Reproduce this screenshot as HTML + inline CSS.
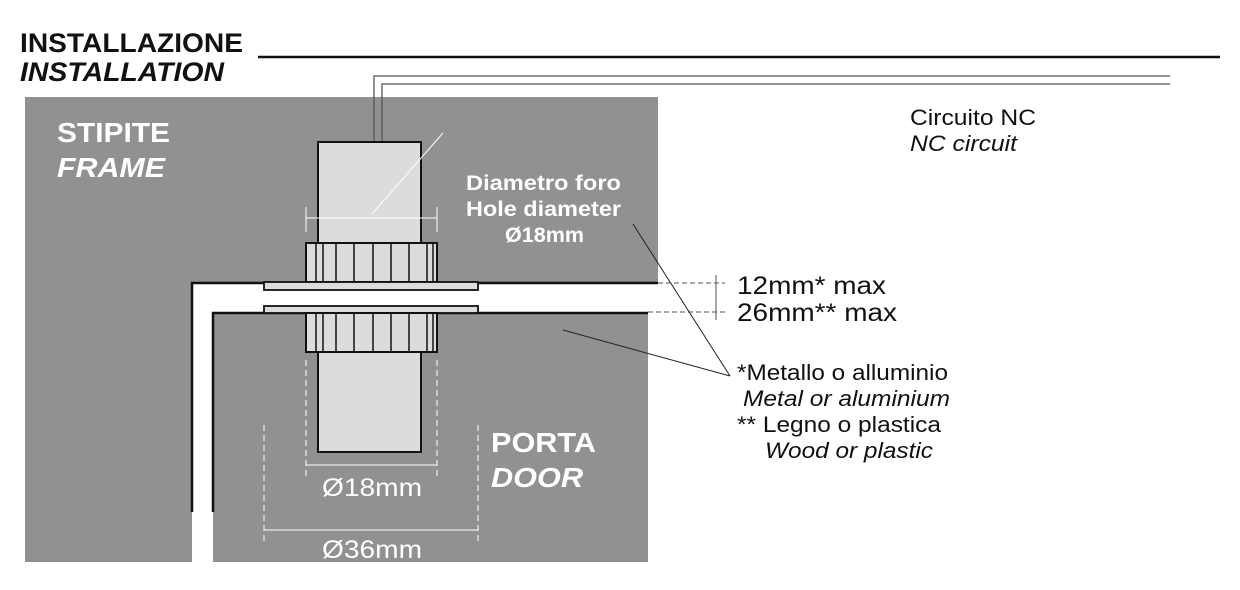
<!DOCTYPE html>
<html><head><meta charset="utf-8"><style>
html,body{margin:0;padding:0;background:#fff;}
svg{display:block;font-family:"Liberation Sans",Arial,sans-serif;}
</style></head><body>
<svg width="1240" height="590" viewBox="0 0 1240 590" xmlns="http://www.w3.org/2000/svg">
<text x="20" y="52" font-size="27" font-weight="bold" fill="#111" textLength="223" lengthAdjust="spacingAndGlyphs">INSTALLAZIONE</text>
<text x="20" y="81" font-size="27" font-weight="bold" font-style="italic" fill="#111" textLength="204" lengthAdjust="spacingAndGlyphs">INSTALLATION</text>
<line x1="258" y1="57" x2="1220" y2="57" stroke="#111" stroke-width="2.5"/>
<rect x="25" y="97" width="633" height="186" fill="#929190"/>
<rect x="25" y="283" width="167" height="279" fill="#929190"/>
<rect x="213" y="313" width="435" height="249" fill="#929190"/>
<polyline points="658,283 192,283 192,512" fill="none" stroke="#111" stroke-width="2.5"/>
<polyline points="648,313 213,313 213,512" fill="none" stroke="#111" stroke-width="2.5"/>
<polyline points="374,142 374,76 1170,76" fill="none" stroke="#555" stroke-width="1.3"/>
<polyline points="382,142 382,84 1170,84" fill="none" stroke="#555" stroke-width="1.3"/>
<rect x="318" y="142" width="103" height="101" fill="#dcdcdc" stroke="#111" stroke-width="2"/>
<rect x="306" y="243" width="131" height="39" fill="#dcdcdc" stroke="#111" stroke-width="2"/>
<g stroke="#111" stroke-width="1.5">
<line x1="316" y1="243" x2="316" y2="282"/><line x1="323" y1="243" x2="323" y2="282"/><line x1="336" y1="243" x2="336" y2="282"/><line x1="354" y1="243" x2="354" y2="282"/><line x1="373" y1="243" x2="373" y2="282"/><line x1="391" y1="243" x2="391" y2="282"/><line x1="409" y1="243" x2="409" y2="282"/><line x1="427" y1="243" x2="427" y2="282"/><line x1="433" y1="243" x2="433" y2="282"/>
</g>
<rect x="264" y="282" width="214" height="8" fill="#dcdcdc" stroke="#111" stroke-width="1.8"/>
<rect x="264" y="306" width="214" height="7" fill="#dcdcdc" stroke="#111" stroke-width="1.8"/>
<rect x="306" y="313" width="131" height="39" fill="#dcdcdc" stroke="#111" stroke-width="2"/>
<g stroke="#111" stroke-width="1.5">
<line x1="316" y1="313" x2="316" y2="352"/><line x1="323" y1="313" x2="323" y2="352"/><line x1="336" y1="313" x2="336" y2="352"/><line x1="354" y1="313" x2="354" y2="352"/><line x1="373" y1="313" x2="373" y2="352"/><line x1="391" y1="313" x2="391" y2="352"/><line x1="409" y1="313" x2="409" y2="352"/><line x1="427" y1="313" x2="427" y2="352"/><line x1="433" y1="313" x2="433" y2="352"/>
</g>
<rect x="318" y="352" width="103" height="100" fill="#dcdcdc" stroke="#111" stroke-width="2"/>
<g stroke="#fff" stroke-width="1" fill="none">
<line x1="306" y1="218" x2="437" y2="218"/>
<line x1="306" y1="207" x2="306" y2="232"/><line x1="437" y1="207" x2="437" y2="232"/>
<line x1="372" y1="214" x2="443" y2="133"/>
<line x1="306" y1="360" x2="306" y2="478" stroke-dasharray="6,4"/>
<line x1="437" y1="360" x2="437" y2="478" stroke-dasharray="6,4"/>
<line x1="306" y1="465" x2="437" y2="465"/>
<line x1="264" y1="425" x2="264" y2="543" stroke-dasharray="6,4"/>
<line x1="478" y1="425" x2="478" y2="543" stroke-dasharray="6,4"/>
<line x1="264" y1="530" x2="478" y2="530"/>
</g>
<text x="322" y="496" font-size="25" fill="#fff" textLength="100" lengthAdjust="spacingAndGlyphs">Ø18mm</text>
<text x="322" y="558" font-size="25" fill="#fff" textLength="100" lengthAdjust="spacingAndGlyphs">Ø36mm</text>
<text x="57" y="142" font-size="28" font-weight="bold" fill="#fff" textLength="113" lengthAdjust="spacingAndGlyphs">STIPITE</text>
<text x="57" y="177" font-size="28" font-weight="bold" font-style="italic" fill="#fff" textLength="108" lengthAdjust="spacingAndGlyphs">FRAME</text>
<text x="491" y="452" font-size="28" font-weight="bold" fill="#fff" textLength="105" lengthAdjust="spacingAndGlyphs">PORTA</text>
<text x="491" y="487" font-size="28" font-weight="bold" font-style="italic" fill="#fff" textLength="92" lengthAdjust="spacingAndGlyphs">DOOR</text>
<g font-size="21" font-weight="bold" fill="#fff">
<text x="466" y="190" textLength="155" lengthAdjust="spacingAndGlyphs">Diametro foro</text>
<text x="466" y="216" textLength="155" lengthAdjust="spacingAndGlyphs">Hole diameter</text>
<text x="505" y="242" textLength="79" lengthAdjust="spacingAndGlyphs">Ø18mm</text>
</g>
<g stroke="#555" stroke-width="1">
<line x1="658" y1="283" x2="725" y2="283" stroke-dasharray="5,3"/>
<line x1="648" y1="312" x2="725" y2="312" stroke-dasharray="5,3"/>
<line x1="716" y1="275" x2="716" y2="320"/>
<line x1="633" y1="224" x2="730" y2="376" stroke="#222"/>
<line x1="563" y1="330" x2="730" y2="376" stroke="#222"/>
</g>
<text x="737" y="294" font-size="25" fill="#111" textLength="149" lengthAdjust="spacingAndGlyphs">12mm* max</text>
<text x="737" y="321" font-size="25" fill="#111" textLength="160" lengthAdjust="spacingAndGlyphs">26mm** max</text>
<g font-size="22" fill="#111">
<text x="737" y="380" textLength="211" lengthAdjust="spacingAndGlyphs">*Metallo o alluminio</text>
<text x="743" y="406" font-style="italic" textLength="207" lengthAdjust="spacingAndGlyphs">Metal or aluminium</text>
<text x="737" y="432" textLength="204" lengthAdjust="spacingAndGlyphs">** Legno o plastica</text>
<text x="765" y="458" font-style="italic" textLength="168" lengthAdjust="spacingAndGlyphs">Wood or plastic</text>
<text x="910" y="125" textLength="126" lengthAdjust="spacingAndGlyphs">Circuito NC</text>
<text x="910" y="151" font-style="italic" textLength="107" lengthAdjust="spacingAndGlyphs">NC circuit</text>
</g>
</svg>
</body></html>
